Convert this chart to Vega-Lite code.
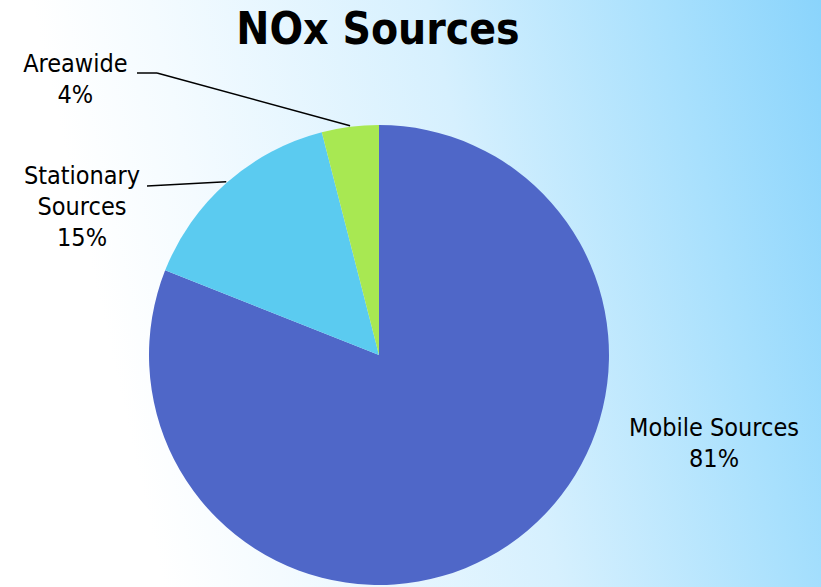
{
  "$schema": "https://vega.github.io/schema/vega-lite/v6.json",
  "width": 821,
  "height": 587,
  "autosize": {"type": "fit", "contains": "padding"},
  "padding": 0,
  "background": "#ffffff",
  "title": {
    "text": "NOx Sources",
    "orient": "none",
    "font": "DejaVu Sans Condensed, DejaVu Sans",
    "fontSize": 44,
    "fontWeight": "bold",
    "color": "#000000",
    "anchor": "start",
    "align": "center",
    "baseline": "alphabetic",
    "dx": 378,
    "dy": 44
  },
  "config": {
    "view": {
      "stroke": null,
      "fill": {
        "gradient": "linear",
        "x1": 0.135, "y1": 0.6, "x2": 1.073, "y2": 0.448,
        "stops": [
          {"offset": 0, "color": "#ffffff"},
          {"offset": 0.15, "color": "#f4fbff"},
          {"offset": 0.5, "color": "#d6f0fe"},
          {"offset": 0.8, "color": "#a8e0fd"},
          {"offset": 1, "color": "#8ad4fc"}
        ]
      }
    }
  },
  "data": {
    "values": [
      {"source": "Mobile Sources", "share": 81},
      {"source": "Stationary Sources", "share": 15},
      {"source": "Areawide", "share": 4}
    ]
  },
  "layer": [
    {
      "mark": {
        "type": "arc",
        "radius": 230,
        "x": {"expr": "width/2 - 31.5"},
        "y": {"expr": "height/2 + 61.5"}
      },
      "encoding": {
        "theta": {"field": "share", "type": "quantitative", "stack": true},
        "order": {"field": "share", "sort": "descending"},
        "color": {
          "field": "source",
          "type": "nominal",
          "scale": {
            "domain": ["Mobile Sources", "Stationary Sources", "Areawide"],
            "range": ["#4f67c8", "#5bcbf0", "#a8e852"]
          },
          "legend": null
        }
      }
    },
    {
      "transform": [
        {"stack": "share", "groupby": [], "as": ["s0", "s1"], "sort": [{"field": "share", "order": "descending"}]},
        {"calculate": "PI * (datum.s0 + datum.s1) / 100", "as": "mid"},
        {"filter": "datum.source != 'Mobile Sources'"}
      ],
      "mark": {"type": "rule", "stroke": "#000000", "strokeWidth": 1.5},
      "encoding": {
        "x": {"value": {"expr": "width/2 - 31.5 + (datum.source == 'Areawide' ? -222 : -232)"}},
        "y": {"value": {"expr": "height/2 + 61.5 + (datum.source == 'Areawide' ? -282 : -169)"}},
        "x2": {"value": {"expr": "width/2 - 31.5 + 231 * sin(datum.mid)"}},
        "y2": {"value": {"expr": "height/2 + 61.5 - 231 * cos(datum.mid)"}}
      }
    },
    {
      "transform": [{"filter": "datum.source == 'Areawide'"}],
      "mark": {"type": "rule", "stroke": "#000000", "strokeWidth": 1.5},
      "encoding": {
        "x": {"value": {"expr": "width/2 - 31.5 - 242"}},
        "y": {"value": {"expr": "height/2 + 61.5 - 282"}},
        "x2": {"value": {"expr": "width/2 - 31.5 - 222"}},
        "y2": {"value": {"expr": "height/2 + 61.5 - 282"}}
      }
    },
    {
      "transform": [
        {"calculate": "datum.source == 'Stationary Sources' ? ['Stationary', 'Sources', datum.share + '%'] : [datum.source, datum.share + '%']", "as": "label"}
      ],
      "mark": {
        "type": "text",
        "font": "DejaVu Sans Condensed, DejaVu Sans",
        "fontSize": 25,
        "lineHeight": 31,
        "color": "#000000",
        "align": "center",
        "baseline": "middle",
        "x": {"expr": "width/2 - 31.5"},
        "y": {"expr": "height/2 + 61.5"},
        "radius": {"expr": "datum.source == 'Mobile Sources' ? 343.0 : datum.source == 'Areawide' ? 420.5 : 346.5"},
        "thetaOffset": {"expr": "datum.source == 'Mobile Sources' ? -0.758 : datum.source == 'Areawide' ? -0.681 : -0.307"}
      },
      "encoding": {
        "theta": {"field": "share", "type": "quantitative", "stack": true},
        "order": {"field": "share", "sort": "descending"},
        "text": {"field": "label"}
      }
    }
  ]
}
